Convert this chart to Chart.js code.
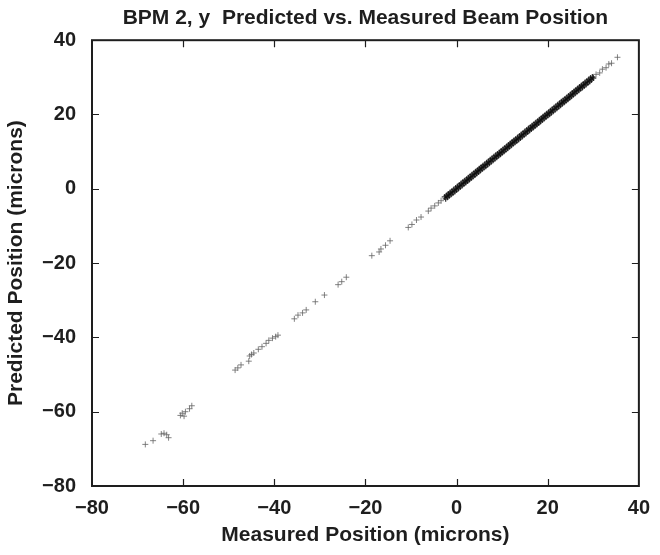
<!DOCTYPE html>
<html>
<head>
<meta charset="utf-8">
<title>BPM 2, y Predicted vs. Measured Beam Position</title>
<script src="https://cdn.jsdelivr.net/npm/chart.js@4.4.1/dist/chart.umd.min.js"></script>
<style>
  html, body { margin: 0; padding: 0; background: #ffffff; }
  #wrap { width: 660px; height: 555px; }
</style>
</head>
<body>
<div id="wrap"><canvas id="bpm"></canvas></div>
<script>
// Axis tick values (microns)
const xTickValues = [-80, -60, -40, -20, 0, 20, 40];
const yTickValues = [-80, -60, -40, -20, 0, 20, 40];

// Sparse shots: measured vs. predicted position (microns)
const sparseMeasured = [
  -68.3, -66.6, -64.8, -64.2, -63.6, -63.2,
  -60.6, -60.2, -59.8, -59.5, -58.6, -58.1,
  -48.6, -48.0, -47.3, -45.6, -45.4, -45.0, -44.5,
  -43.5, -42.7, -41.8, -41.2, -40.4, -39.7, -39.2,
  -35.6, -34.8, -33.8, -33.0, -31.0, -29.0,
  -26.0, -25.2, -24.2,
  -18.6, -17.0, -16.6, -15.6, -14.6,
  -10.6, -9.8, -8.8, -7.8,
  -6.2, -5.6, -4.8, -4.0, -3.4,
  30.6, 31.4, 32.0, 32.8, 33.4, 34.0, 35.3
];
const sparsePredicted = [
  -68.8, -67.8, -66.0, -65.8, -66.2, -67.0,
  -61.0, -60.4, -61.2, -60.0, -59.2, -58.4,
  -48.8, -48.2, -47.4, -46.4, -45.0, -44.6, -44.2,
  -43.2, -42.5, -41.6, -40.8, -40.2, -39.8, -39.4,
  -35.0, -34.0, -33.4, -32.6, -30.4, -28.6,
  -25.8, -25.0, -23.8,
  -18.0, -17.0, -16.2, -15.2, -14.0,
  -10.4, -9.6, -8.4, -7.6,
  -6.0, -5.2, -4.6, -3.8, -3.2,
  30.8, 31.2, 32.2, 32.6, 33.6, 33.8, 35.4
];

// Bulk of the shots, packed tightly along the diagonal (microns)
const denseMeasured = [
  -2.6, -2.4, -2.2, -2.0, -1.8, -1.6, -1.4, -1.2, -1.0, -0.8,
  -0.6, -0.4, -0.2, 0.0, 0.2, 0.4, 0.6, 0.8, 1.0, 1.2,
  1.4, 1.6, 1.8, 2.0, 2.2, 2.4, 2.6, 2.8, 3.0, 3.2,
  3.4, 3.6, 3.8, 4.0, 4.2, 4.4, 4.6, 4.8, 5.0, 5.2,
  5.4, 5.6, 5.8, 6.0, 6.2, 6.4, 6.6, 6.8, 7.0, 7.2,
  7.4, 7.6, 7.8, 8.0, 8.2, 8.4, 8.6, 8.8, 9.0, 9.2,
  9.4, 9.6, 9.8, 10.0, 10.2, 10.4, 10.6, 10.8, 11.0, 11.2,
  11.4, 11.6, 11.8, 12.0, 12.2, 12.4, 12.6, 12.8, 13.0, 13.2,
  13.4, 13.6, 13.8, 14.0, 14.2, 14.4, 14.6, 14.8, 15.0, 15.2,
  15.4, 15.6, 15.8, 16.0, 16.2, 16.4, 16.6, 16.8, 17.0, 17.2,
  17.4, 17.6, 17.8, 18.0, 18.2, 18.4, 18.6, 18.8, 19.0, 19.2,
  19.4, 19.6, 19.8, 20.0, 20.2, 20.4, 20.6, 20.8, 21.0, 21.2,
  21.4, 21.6, 21.8, 22.0, 22.2, 22.4, 22.6, 22.8, 23.0, 23.2,
  23.4, 23.6, 23.8, 24.0, 24.2, 24.4, 24.6, 24.8, 25.0, 25.2,
  25.4, 25.6, 25.8, 26.0, 26.2, 26.4, 26.6, 26.8, 27.0, 27.2,
  27.4, 27.6, 27.8, 28.0, 28.2, 28.4, 28.6, 28.8, 29.0, 29.2,
  29.4, 29.6, 29.8, 30.0
];
const densePredicted = [
  -2.2, -2.7, -1.8, -2.3, -1.4, -1.9, -1.0, -1.5, -0.6, -1.1,
  -0.2, -0.7, 0.2, -0.3, 0.6, 0.1, 1.0, 0.5, 1.4, 0.9,
  1.8, 1.3, 2.2, 1.7, 2.6, 2.1, 3.0, 2.5, 3.4, 2.9,
  3.8, 3.3, 4.2, 3.7, 4.6, 4.1, 5.0, 4.5, 5.4, 4.9,
  5.8, 5.3, 6.2, 5.7, 6.6, 6.1, 7.0, 6.5, 7.4, 6.9,
  7.8, 7.3, 8.2, 7.7, 8.6, 8.1, 9.0, 8.5, 9.4, 8.9,
  9.8, 9.3, 10.2, 9.7, 10.6, 10.1, 11.0, 10.5, 11.4, 10.9,
  11.8, 11.3, 12.2, 11.7, 12.6, 12.1, 13.0, 12.5, 13.4, 12.9,
  13.8, 13.3, 14.2, 13.7, 14.6, 14.1, 15.0, 14.5, 15.4, 14.9,
  15.8, 15.3, 16.2, 15.7, 16.6, 16.1, 17.0, 16.5, 17.4, 16.9,
  17.8, 17.3, 18.2, 17.7, 18.6, 18.1, 19.0, 18.5, 19.4, 18.9,
  19.8, 19.3, 20.2, 19.7, 20.6, 20.1, 21.0, 20.5, 21.4, 20.9,
  21.8, 21.3, 22.2, 21.7, 22.6, 22.1, 23.0, 22.5, 23.4, 22.9,
  23.8, 23.3, 24.2, 23.7, 24.6, 24.1, 25.0, 24.5, 25.4, 24.9,
  25.8, 25.3, 26.2, 25.7, 26.6, 26.1, 27.0, 26.5, 27.4, 26.9,
  27.8, 27.3, 28.2, 27.7, 28.6, 28.1, 29.0, 28.5, 29.4, 28.9,
  29.8, 29.3, 30.1, 29.8
];

const toPoints = (xs, ys) => xs.map((x, i) => ({ x: x, y: ys[i] }));
const fmt = v => (v < 0 ? '\u2212' + Math.abs(v) : String(v));

const FONT = '"Liberation Sans", Arial, Helvetica, sans-serif';
const INK = '#1e1e1e';

// Boxed frame with inward tick marks on all four sides
const framePlugin = {
  id: 'frameTicks',
  afterDatasetsDraw(chart) {
    const { ctx, chartArea: a, scales } = chart;
    const len = 7;
    ctx.save();
    ctx.strokeStyle = INK;
    ctx.lineWidth = 1.2;
    ctx.beginPath();
    xTickValues.forEach(v => {
      const px = Math.round(scales.x.getPixelForValue(v)) + 0.5;
      if (px <= a.left + 1 || px >= a.right - 1) return;
      ctx.moveTo(px, a.bottom); ctx.lineTo(px, a.bottom - len);
      ctx.moveTo(px, a.top); ctx.lineTo(px, a.top + len);
    });
    yTickValues.forEach(v => {
      const py = Math.round(scales.y.getPixelForValue(v)) + 0.5;
      if (py <= a.top + 1 || py >= a.bottom - 1) return;
      ctx.moveTo(a.left, py); ctx.lineTo(a.left + len, py);
      ctx.moveTo(a.right, py); ctx.lineTo(a.right - len, py);
    });
    ctx.stroke();
    ctx.lineWidth = 2;
    ctx.strokeRect(a.left, a.top, a.right - a.left, a.bottom - a.top);
    ctx.restore();
  }
};

new Chart(document.getElementById('bpm'), {
  type: 'scatter',
  data: {
    datasets: [
      {
        label: 'bulk',
        data: toPoints(denseMeasured, densePredicted),
        pointStyle: 'cross',
        pointRadius: 3,
        borderWidth: 1.3,
        borderColor: 'rgba(10,10,10,0.8)',
        backgroundColor: 'rgba(10,10,10,0.8)'
      },
      {
        label: 'sparse',
        data: toPoints(sparseMeasured, sparsePredicted),
        pointStyle: 'cross',
        pointRadius: 3,
        borderWidth: 1,
        borderColor: 'rgba(100,100,100,0.8)',
        backgroundColor: 'rgba(100,100,100,0.8)'
      }
    ]
  },
  options: {
    responsive: true,
    maintainAspectRatio: false,
    animation: false,
    events: [],
    layout: { padding: { top: 0, right: 12, bottom: 0, left: 0 } },
    plugins: {
      legend: { display: false },
      tooltip: { enabled: false },
      title: {
        display: true,
        fullSize: false,
        text: 'BPM 2, y  Predicted vs. Measured Beam Position',
        color: INK,
        font: { family: FONT, size: 21, weight: 'bold' },
        padding: { top: 6, bottom: 9 }
      }
    },
    scales: {
      x: {
        type: 'linear',
        min: -80, max: 40,
        afterBuildTicks(scale) { scale.ticks = xTickValues.map(v => ({ value: v })); },
        afterFit(scale) { scale.height = 69; },
        grid: { display: false, drawTicks: false },
        border: { display: false },
        ticks: {
          color: INK, padding: 10,
          font: { family: FONT, size: 20, weight: 'bold' },
          maxRotation: 0, autoSkip: false,
          callback: v => fmt(v)
        },
        title: {
          display: true,
          text: 'Measured Position (microns)',
          color: INK,
          font: { family: FONT, size: 21, weight: 'bold' },
          padding: { top: 0, bottom: 7 }
        }
      },
      y: {
        type: 'linear',
        min: -80, max: 40,
        afterBuildTicks(scale) { scale.ticks = yTickValues.map(v => ({ value: v })); },
        afterFit(scale) { scale.width = 92; },
        grid: { display: false, drawTicks: false },
        border: { display: false },
        ticks: {
          color: INK, padding: 16,
          font: { family: FONT, size: 20, weight: 'bold' },
          autoSkip: false,
          callback: v => fmt(v)
        },
        title: {
          display: true,
          text: 'Predicted Position (microns)',
          color: INK,
          font: { family: FONT, size: 21, weight: 'bold' },
          padding: { top: 4, bottom: 0 }
        }
      }
    }
  },
  plugins: [framePlugin]
});
</script>
</body>
</html>
